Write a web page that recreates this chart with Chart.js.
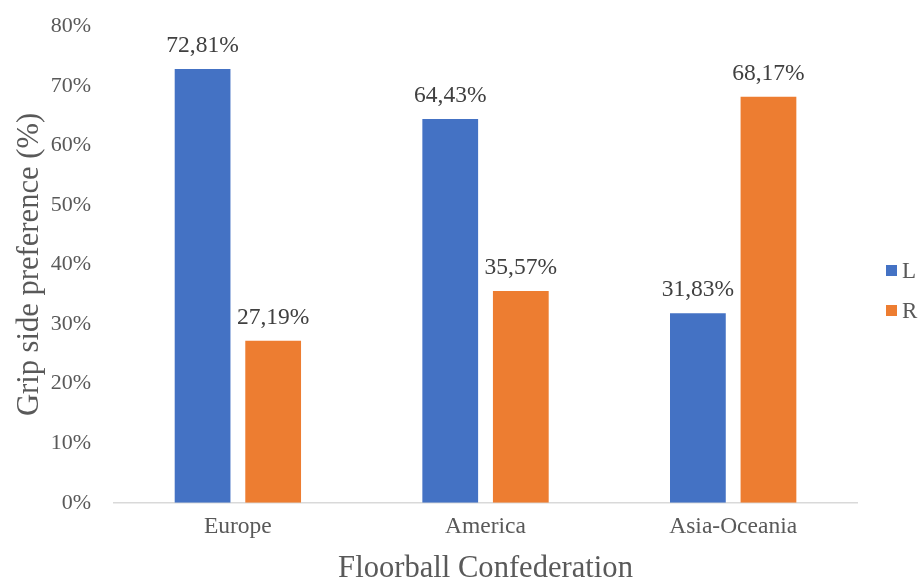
<!DOCTYPE html>
<html>
<head>
<meta charset="utf-8">
<script src="https://cdn.jsdelivr.net/npm/chart.js@4/dist/chart.umd.min.js"></script>
<style>
  html, body { margin: 0; padding: 0; background: #ffffff; }
  #wrap { width: 919px; height: 582px; position: relative; }
</style>
</head>
<body>
<div id="wrap"><canvas id="c" width="919" height="582"></canvas></div>
<script>
const categories = ['Europe', 'America', 'Asia-Oceania'];
const seriesNames = ['L', 'R'];
const valuesL = [72.81, 64.43, 31.83];
const valuesR = [27.19, 35.57, 68.17];
const seriesColors = ['#4472C4', '#ED7D31'];
const yTickValues = [0, 10, 20, 30, 40, 50, 60, 70, 80];
const xTitle = 'Floorball Confederation';
const yTitle = 'Grip side preference (%)';

const FONT = '"Liberation Serif", "Times New Roman", serif';
const TEXT = '#595959';
const LABEL = '#404040';

const dataLabelPlugin = {
  id: 'dataLabels',
  afterDatasetsDraw(chart) {
    const ctx = chart.ctx;
    ctx.save();
    ctx.font = '23.5px ' + FONT;
    ctx.fillStyle = LABEL;
    ctx.textAlign = 'center';
    ctx.textBaseline = 'middle';
    chart.data.datasets.forEach((ds, di) => {
      const meta = chart.getDatasetMeta(di);
      meta.data.forEach((bar, i) => {
        const txt = ds.data[i].toFixed(2).replace('.', ',') + '%';
        ctx.fillText(txt, bar.x, bar.y - 23);
      });
    });
    ctx.restore();
  }
};

const sideLegendPlugin = {
  id: 'sideLegend',
  afterDraw(chart) {
    const ctx = chart.ctx;
    const area = chart.chartArea;
    const boxX = area.right + 29;
    const startY = chart.height / 2 - 20;
    ctx.save();
    ctx.font = '23px ' + FONT;
    ctx.textAlign = 'left';
    ctx.textBaseline = 'middle';
    chart.data.datasets.forEach((ds, di) => {
      const cy = startY + di * 40;
      ctx.fillStyle = ds.backgroundColor;
      ctx.fillRect(boxX, cy - 6, 11, 11);
      ctx.fillStyle = TEXT;
      ctx.fillText(ds.label, boxX + 16, cy + 1);
    });
    ctx.restore();
  }
};

new Chart(document.getElementById('c'), {
  type: 'bar',
  data: {
    labels: categories,
    datasets: [
      { label: seriesNames[0], data: valuesL, backgroundColor: seriesColors[0], borderWidth: 0 },
      { label: seriesNames[1], data: valuesR, backgroundColor: seriesColors[1], borderWidth: 0 }
    ]
  },
  options: {
    responsive: false,
    animation: false,
    devicePixelRatio: 1,
    categoryPercentage: 0.57,
    barPercentage: 0.79,
    layout: { padding: { left: 8, top: 0, right: 62, bottom: 0 } },
    plugins: {
      legend: { display: false },
      tooltip: { enabled: false }
    },
    scales: {
      x: {
        grid: { display: false, drawTicks: false },
        border: { display: true, color: '#d9d9d9', width: 1.5 },
        ticks: { color: TEXT, font: { family: FONT, size: 23.5, lineHeight: 1.05 }, padding: 12 },
        title: {
          display: true, text: xTitle, color: TEXT,
          font: { family: FONT, size: 30.6, lineHeight: 1 },
          padding: { top: 2, bottom: -2 }
        }
      },
      y: {
        min: 0, max: 80,
        afterBuildTicks(scale) { scale.ticks = yTickValues.map(v => ({ value: v })); },
        grid: { display: false, drawTicks: false },
        border: { display: false },
        ticks: {
          color: TEXT, font: { family: FONT, size: 22, lineHeight: 0.3 }, padding: 23,
          callback: v => v + '%'
        },
        title: {
          display: true, text: yTitle, color: TEXT,
          font: { family: FONT, size: 30.6, lineHeight: 1.2 },
          padding: { top: 4, bottom: -21 }
        }
      }
    }
  },
  plugins: [dataLabelPlugin, sideLegendPlugin]
});
</script>
</body>
</html>
